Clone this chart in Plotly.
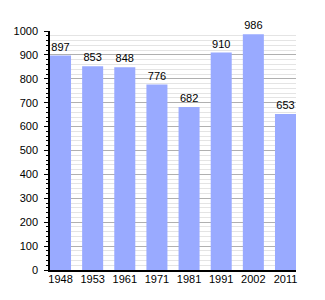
import plotly.graph_objects as go

years = ["1948", "1953", "1961", "1971", "1981", "1991", "2002", "2011"]
population = [897, 853, 848, 776, 682, 910, 986, 653]
y_ticks = [0, 100, 200, 300, 400, 500, 600, 700, 800, 900, 1000]

x_pos = list(range(len(years)))

fig = go.Figure(go.Bar(
    x=x_pos, y=population,
    marker=dict(color="#99aaff", line=dict(width=0)),
    text=[str(v) for v in population],
    textposition="outside",
    textfont=dict(family="Liberation Sans, Arial, sans-serif", size=11, color="#000"),
    cliponaxis=False,
))

fig.update_layout(
    width=325, height=300,
    margin=dict(l=50, r=29, t=31, b=30),
    paper_bgcolor="white", plot_bgcolor="white",
    bargap=0.346,
    showlegend=False,
    font=dict(family="Liberation Sans, Arial, sans-serif", size=11, color="#000"),
    xaxis=dict(
        range=[-0.327, 7.327],
        tickvals=x_pos, ticktext=years,
        showgrid=False, zeroline=False,
        showline=True, linecolor="black", linewidth=1.5,
        ticks="", tickfont=dict(size=11),
        ticklabelstandoff=-2,
    ),
    yaxis=dict(
        range=[0, 1000],
        tickvals=y_ticks,
        showgrid=True, gridcolor="#b0b0b0", gridwidth=1,
        zeroline=False,
        showline=True, linecolor="black", linewidth=1.5,
        ticks="outside", ticklen=4, tickcolor="black",
        tickfont=dict(size=11),
        ticklabelstandoff=4,
        minor=dict(dtick=20, showgrid=True, gridcolor="#e4e4e4", gridwidth=1,
                   ticks="outside", ticklen=2, tickcolor="black"),
    ),
)

fig.write_html("out.html")
